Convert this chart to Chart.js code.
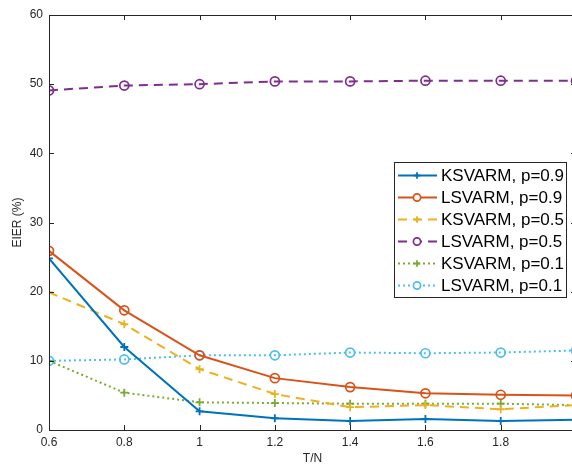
<!DOCTYPE html>
<html>
<head>
<meta charset="utf-8">
<script src="https://cdn.jsdelivr.net/npm/chart.js@4/dist/chart.umd.min.js"></script>
<style>
  html, body { margin: 0; padding: 0; background: #fff; overflow: hidden; }
  #wrap { width: 600px; height: 468px; }
</style>
</head>
<body>
<div id="wrap"><canvas id="chart" width="600" height="468"></canvas></div>
<script>
// ---- data ----
const ratios = [0.6, 0.8, 1.0, 1.2, 1.4, 1.6, 1.8, 2.0];
const ksP09 = [24.8, 12.0, 2.7, 1.7, 1.3, 1.6, 1.3, 1.5];
const lsP09 = [25.9, 17.3, 10.8, 7.5, 6.2, 5.3, 5.1, 5.0];
const ksP05 = [19.9, 15.3, 8.8, 5.2, 3.3, 3.6, 3.0, 3.6];
const lsP05 = [49.1, 49.8, 50.0, 50.4, 50.4, 50.5, 50.5, 50.5];
const ksP01 = [10.0, 5.4, 4.0, 3.9, 3.8, 3.8, 3.8, 3.6];
const lsP01 = [10.0, 10.2, 10.8, 10.8, 11.2, 11.1, 11.2, 11.5];
const seriesLabels = ['KSVARM, p=0.9', 'LSVARM, p=0.9', 'KSVARM, p=0.5',
                      'LSVARM, p=0.5', 'KSVARM, p=0.1', 'LSVARM, p=0.1'];
const yTicks = [0, 10, 20, 30, 40, 50, 60];

const AXIS_COLOR = '#262626';
const FONT = '"Liberation Sans", Arial, Helvetica, sans-serif';

const toPoints = (vals) => vals.map((v, i) => ({ x: ratios[i], y: v }));

const makeSet = (label, vals, color, dash, marker) => ({
  label: label,
  data: toPoints(vals),
  borderColor: color,
  backgroundColor: color,
  borderWidth: 2,
  borderDash: dash,
  pointStyle: marker,
  pointRadius: marker === 'circle' ? 4.5 : 4,
  pointBorderWidth: marker === 'circle' ? 1.7 : 1.8,
  pointBorderColor: color,
  pointBackgroundColor: marker === 'circle' ? 'rgba(255,255,255,0)' : color,
  tension: 0,
  fill: false
});

const datasets = [
  makeSet(seriesLabels[0], ksP09, '#0072BD', [], 'cross'),
  makeSet(seriesLabels[1], lsP09, '#D95319', [], 'circle'),
  makeSet(seriesLabels[2], ksP05, '#EDB120', [9, 6], 'cross'),
  makeSet(seriesLabels[3], lsP05, '#7E2F8E', [9, 6], 'circle'),
  makeSet(seriesLabels[4], ksP01, '#77AC30', [2, 3], 'cross'),
  makeSet(seriesLabels[5], lsP01, '#4DBEEE', [2, 3], 'circle')
];

/*
 * box + inward ticks, matlab style
 */
const boxPlugin = {
  id: 'boxPlugin',
  afterDatasetsDraw(chart) {
    const { ctx, chartArea: a, scales } = chart;
    const tl = 5;
    ctx.save();
    ctx.strokeStyle = AXIS_COLOR;
    ctx.lineWidth = 1;
    ctx.beginPath();
    ctx.rect(Math.round(a.left) + 0.5, Math.round(a.top) + 0.5,
      Math.round(a.right - a.left), Math.round(a.bottom - a.top));
    scales.x.ticks.forEach((t) => {
      const px = Math.round(scales.x.getPixelForValue(t.value)) + 0.5;
      ctx.moveTo(px, a.bottom); ctx.lineTo(px, a.bottom - tl);
      ctx.moveTo(px, a.top); ctx.lineTo(px, a.top + tl);
    });
    scales.y.ticks.forEach((t) => {
      const py = Math.round(scales.y.getPixelForValue(t.value)) + 0.5;
      ctx.moveTo(a.left, py); ctx.lineTo(a.left + tl, py);
      ctx.moveTo(a.right, py); ctx.lineTo(a.right - tl, py);
    });
    ctx.stroke();
    ctx.restore();
  }
};

/*
 * legend box inside the axes
 */
const legendPlugin = {
  id: 'boxLegend',
  afterDraw(chart) {
    const { ctx } = chart;
    const box = { x: 394.5, y: 162.5, w: 172, h: 135 };
    const rowH = 22;
    ctx.save();
    ctx.fillStyle = '#ffffff';
    ctx.fillRect(box.x, box.y, box.w, box.h);
    ctx.strokeStyle = AXIS_COLOR;
    ctx.lineWidth = 1;
    ctx.strokeRect(box.x, box.y, box.w, box.h);

    chart.data.datasets.forEach((ds, i) => {
      const cy = box.y + 13 + i * rowH;
      ctx.strokeStyle = ds.borderColor;
      ctx.lineWidth = 2;
      ctx.setLineDash(ds.borderDash);
      ctx.beginPath();
      ctx.moveTo(398, cy);
      ctx.lineTo(437, cy);
      ctx.stroke();
      ctx.setLineDash([]);
      ctx.strokeStyle = ds.pointBorderColor;
      ctx.fillStyle = '#ffffff';
      ctx.lineWidth = ds.pointBorderWidth;
      Chart.helpers.drawPoint(ctx, {
        pointStyle: ds.pointStyle,
        radius: ds.pointStyle === 'circle' ? 3.6 : 3.2,
        borderWidth: ds.pointBorderWidth,
        rotation: 0
      }, 417, cy);
      ctx.fillStyle = '#000';
      ctx.font = '17px ' + FONT;
      ctx.textBaseline = 'middle';
      ctx.textAlign = 'left';
      ctx.fillText(ds.label, 441, cy + 1);
    });
    ctx.restore();
  }
};

const initChart = () => {
  const canvas = document.getElementById('chart');

  new Chart(canvas, {
    type: 'line',
    data: { datasets: datasets },
    plugins: [boxPlugin, legendPlugin],
    options: {
      responsive: false,
      animation: false,
      layout: { padding: { left: 0, top: 15, right: 24, bottom: 0 } },
      plugins: {
        legend: { display: false },
        tooltip: { enabled: false }
      },
      scales: {
        x: {
          type: 'linear',
          min: ratios[0],
          max: ratios[ratios.length - 1],
          afterFit: (scale) => { scale.height = 38; },
          grid: { display: true, drawOnChartArea: false, drawTicks: false },
          border: { display: false },
          ticks: {
            stepSize: 0.2,
            padding: 5,
            color: AXIS_COLOR,
            font: { family: FONT, size: 12 },
            maxRotation: 0,
            callback: (v) => {
              const r = Math.round(v * 10) / 10;
              return r >= 2 ? '' : String(r);
            }
          },
          title: {
            display: true,
            text: 'T/N',
            color: AXIS_COLOR,
            font: { family: FONT, size: 12 },
            padding: { top: 0, bottom: 2 }
          }
        },
        y: {
          type: 'linear',
          min: yTicks[0],
          max: yTicks[yTicks.length - 1],
          afterFit: (scale) => { scale.width = 49; },
          afterBuildTicks: (scale) => { scale.ticks = yTicks.map((v) => ({ value: v })); },
          grid: { display: true, drawOnChartArea: false, drawTicks: false },
          border: { display: false },
          ticks: {
            padding: 6,
            color: AXIS_COLOR,
            font: { family: FONT, size: 12 }
          },
          title: {
            display: true,
            text: 'EIER (%)',
            color: AXIS_COLOR,
            font: { family: FONT, size: 12 },
            padding: { top: 10, bottom: 0 }
          }
        }
      }
    }
  });
};

initChart();
</script>
</body>
</html>
